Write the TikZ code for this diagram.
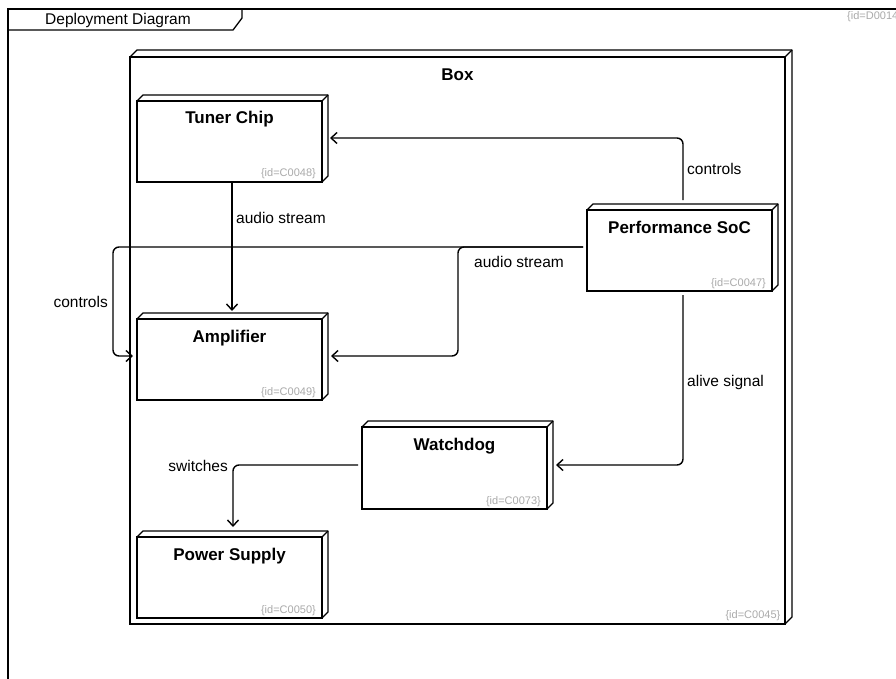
\documentclass[tikz,border=0pt]{standalone}
\usepackage{fontspec}
\setmainfont{Liberation Sans}
\usetikzlibrary{calc,arrows.meta}
\definecolor{idgray}{HTML}{AAAAAA}
\newcommand\lblfont{\fontsize{15.5}{18}\selectfont}
\newcommand\ttlfont{\fontsize{17}{20}\selectfont\bfseries}
\newcommand\idfont{\fontsize{11}{13}\selectfont}
\newcommand\cubeback[2]{%
  \draw[backline] (#1.north west) -- ++(#2,-#2) -- ($(#1.north east)+(#2,-#2)$) -- ($(#1.south east)+(#2,-#2)$) -- (#1.south east);
  \draw[backline] (#1.north east) -- ++(#2,-#2);}
\tikzset{
  devbox/.style={draw, line width=1.8pt, minimum width=185pt, minimum height=81pt, anchor=north west, outer sep=0pt, inner sep=0pt, fill=white},
  backline/.style={line width=1.3pt, line join=round},
  frameline/.style={line width=1.3pt},
  conn/.style={line width=1.4pt, rounded corners=6pt, -{Straight Barb[length=6pt,width=11pt,line width=1.4pt]}},
  lbl/.style={font=\lblfont, inner sep=0pt},
  ttl/.style={font=\ttlfont, inner sep=0pt},
  idl/.style={font=\idfont, text=idgray, inner sep=0pt},
}
\begin{document}
\begin{tikzpicture}[x=1pt,y=-1pt]
\useasboundingbox (0,0) rectangle (896,679);
\fill[white] (0,0) rectangle (896,679);
% frame
\draw[frameline] (8,700) -- (8,9) -- (910,9);
\draw[frameline] (8,30) -- (233,30) -- (242,18) -- (242,9);
\node[lbl, anchor=base west] (frametitle) at (45,24.5) {Deployment Diagram};
\begin{scope}
  \clip (0,0) rectangle (896,679);
  \node[idl, anchor=base west] (frameid) at (847,20) {\{id=D0014\}};
\end{scope}
% Box
\node[devbox, minimum width=655pt, minimum height=567pt] (box) at (130,57) {};
\cubeback{box}{7}
\node[ttl, anchor=base] (boxT) at ($(box.north)+(0,24)$) {Box};
\node[idl, anchor=base east] (boxI) at ($(box.south east)+(-4.5,-5.5)$) {\{id=C0045\}};
% devices
\node[devbox] (tuner) at (137,101) {};
\node[devbox] (amp) at (137,319) {};
\node[devbox] (ps) at (137,537) {};
\node[devbox, minimum height=82pt] (wd) at (362,427) {};
\node[devbox] (soc) at (587,210) {};
\foreach \n in {tuner,amp,ps,wd,soc} {\cubeback{\n}{6}}
\node[ttl, anchor=base] (tunerT) at ($(tuner.north)+(0,23)$) {Tuner Chip};
\node[ttl, anchor=base] (ampT) at ($(amp.north)+(0,23)$) {Amplifier};
\node[ttl, anchor=base] (psT) at ($(ps.north)+(0,23)$) {Power Supply};
\node[ttl, anchor=base] (wdT) at ($(wd.north)+(0,23)$) {Watchdog};
\node[ttl, anchor=base] (socT) at ($(soc.north)+(0,23)$) {Performance SoC};
\node[idl, anchor=base east] (tunerI) at ($(tuner.south east)+(-6,-5)$) {\{id=C0048\}};
\node[idl, anchor=base east] (ampI) at ($(amp.south east)+(-6,-5)$) {\{id=C0049\}};
\node[idl, anchor=base east] (psI) at ($(ps.south east)+(-6,-5)$) {\{id=C0050\}};
\node[idl, anchor=base east] (wdI) at ($(wd.south east)+(-6,-5)$) {\{id=C0073\}};
\node[idl, anchor=base east] (socI) at ($(soc.south east)+(-6,-5)$) {\{id=C0047\}};
% connectors
\coordinate (socL) at ($(soc.west)+(-4,-3.5)$);
\coordinate (ampL) at ($(amp.west)+(-4,-3.5)$);
\coordinate (ampR) at ($(amp.east)+(9,-3.5)$);
\draw[conn] ($(tuner.south west)+(95,0)$) -- ($(amp.north west)+(95,-8)$);
\draw[conn] ($(soc.north west)+(96,-10)$) |- ($(tuner.north east)+(8,37)$);
\draw[conn] (socL) -| ($(ampL)+(-20,0)$) -- (ampL);
\draw[conn] (socL) -| ($(ampR)+(127,0)$) -- (ampR);
\draw[conn] ($(soc.south west)+(96,4)$) |- ($(wd.east)+(9,-3)$);
\draw[conn] ($(wd.west)+(-4,-3)$) -| ($(ps.north west)+(96,-10)$);
% labels
\node[lbl, anchor=base west] (l1) at (236,223) {audio stream};
\node[lbl, anchor=base west] (l2) at (687,175) {controls};
\node[lbl, anchor=base east] (l3) at (108,307) {controls};
\node[lbl, anchor=base west] (l4) at (474,267) {audio stream};
\node[lbl, anchor=base west] (l5) at (687,386.5) {alive signal};
\node[lbl, anchor=base east] (l6) at (228,471.5) {switches};
\end{tikzpicture}
\end{document}
